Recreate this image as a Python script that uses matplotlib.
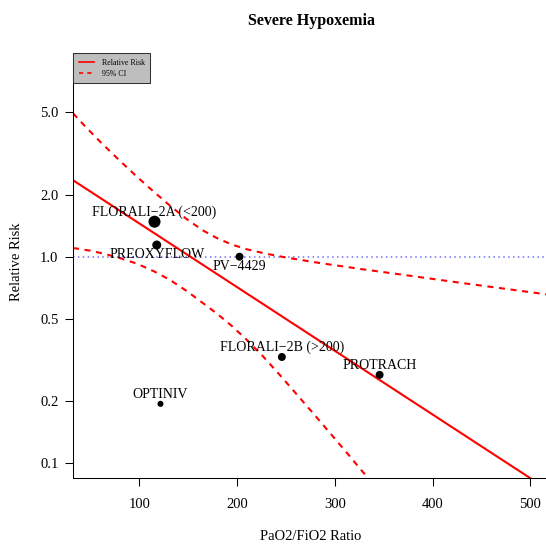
import matplotlib.pyplot as plt
from matplotlib.lines import Line2D

plt.rcParams['font.family'] = ['Liberation Serif', 'DejaVu Serif']

# trial data
studies = ['FLORALI\u22122A (<200)', 'PREOXYFLOW', 'PV\u22124429',
           'FLORALI\u22122B (>200)', 'PROTRACH', 'OPTINIV']
pf_ratio = [115.4, 117.7, 202.4, 245.7, 345.7, 121.5]
rel_risk = [1.477, 1.139, 1.0, 0.327, 0.268, 0.194]
point_size = [75, 42, 33, 33, 33, 19]
label_side = [1, -1, -1, 1, 1, 1]  # +1 above the point, -1 below

# meta-regression line and its 95% CI
fit_x = [32, 518]
fit_rr = [2.345, 0.0745]
ci_upper_x = [32, 45, 62, 80, 97, 115, 131, 148, 165, 180, 195, 210, 230,
              250, 285, 330, 370, 430, 518]
ci_upper_rr = [4.943, 4.246, 3.516, 2.911, 2.449, 2.056, 1.770, 1.524, 1.340, 1.225,
               1.143, 1.086, 1.033, 0.991, 0.931, 0.867, 0.817, 0.746, 0.656]
ci_lower_x = [32, 50, 65, 80, 97, 115, 131, 148, 165, 180, 195, 210, 226,
              245, 260, 278, 295, 312, 330, 345]
ci_lower_rr = [1.102, 1.069, 1.030, 0.984, 0.927, 0.849, 0.773, 0.684, 0.596, 0.527,
               0.460, 0.395, 0.331, 0.263, 0.218, 0.174, 0.140, 0.1127, 0.0891, 0.0733]

y_ticks = [0.1, 0.2, 0.5, 1.0, 2.0, 5.0]
x_ticks = [100, 200, 300, 400, 500]

fig = plt.figure(figsize=(5.46, 5.44), dpi=100)
ax = fig.add_axes([73 / 546, 1 - 478.3 / 544, (548 - 73) / 546, (478.3 - 53.3) / 544])

dash = (0, (2.9, 2.7))
ax.axhline(1.0, color='#3333ff', lw=1.1, ls=(0, (1, 2.2)), alpha=0.7, zorder=1)
ax.plot(fit_x, fit_rr, color='red', lw=1.5, zorder=2)
ax.plot(ci_upper_x, ci_upper_rr, color='red', lw=1.5, ls=dash, zorder=2)
ax.plot(ci_lower_x, ci_lower_rr, color='red', lw=1.5, ls=dash, zorder=2)

ax.scatter(pf_ratio, rel_risk, s=point_size, color='black', zorder=3, linewidths=0)
for name, x, y, side in zip(studies, pf_ratio, rel_risk, label_side):
    ax.annotate(name, (x, y), xytext=(0, 7 * side), textcoords='offset points',
                ha='center', va='center', fontsize=10, zorder=4)

ax.set_yscale('log')
ax.set_xlim(32, 518)
ax.set_ylim(0.0846, 9.65)
ax.set_yticks(y_ticks)
ax.set_yticklabels(['%.1f' % t for t in y_ticks])
ax.minorticks_off()
ax.set_xticks(x_ticks)
ax.set_xticklabels([str(t) for t in x_ticks])
ax.tick_params(direction='out', length=5.5, width=0.75, labelsize=10.5)
ax.tick_params(axis='x', pad=9)
ax.tick_params(axis='y', pad=5)
for s in ['top', 'right']:
    ax.spines[s].set_visible(False)
for s in ['left', 'bottom']:
    ax.spines[s].set_linewidth(0.75)

fig.text(311 / 546, 1 - 21 / 544, 'Severe Hypoxemia', ha='center', va='center',
         fontsize=11.5, fontweight='bold')
fig.text(311 / 546, 1 - 536 / 544, 'PaO2/FiO2 Ratio', ha='center', va='center', fontsize=10.5)
fig.text(16.5 / 546, 1 - 262 / 544, 'Relative Risk', ha='center', va='center',
         rotation=90, fontsize=10.5)

handles = [Line2D([], [], color='red', lw=1.2),
           Line2D([], [], color='red', lw=1.2, ls=(0, (2.5, 2.5)))]
leg = ax.legend(handles, ['Relative Risk', '95% CI'], loc='upper left',
                bbox_to_anchor=(0, 1), borderaxespad=0, fontsize=5.7,
                fancybox=False, framealpha=1, facecolor='#bebebe', edgecolor='#333333',
                handlelength=2.0, handletextpad=0.9, borderpad=0.7, labelspacing=0.35)
leg.get_frame().set_linewidth(0.75)

fig.savefig('out.png', dpi=100)
